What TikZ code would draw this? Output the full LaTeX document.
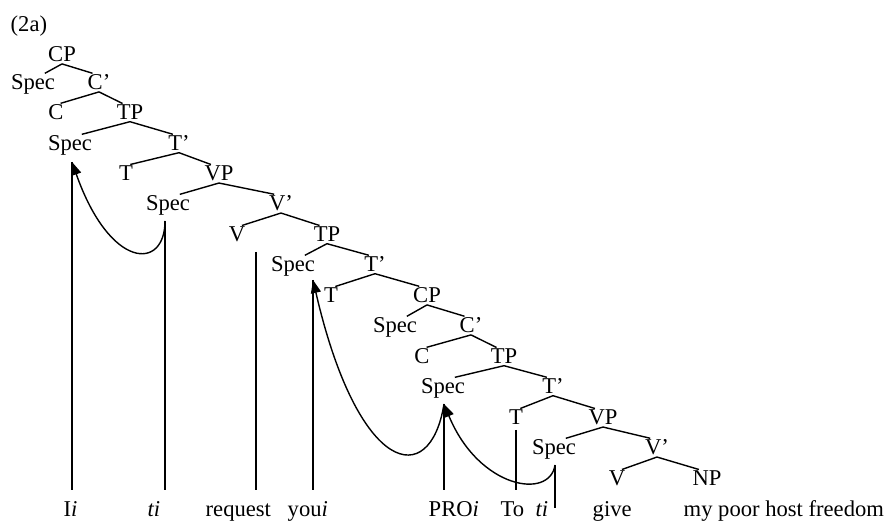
\documentclass[tikz,border=0pt]{standalone}
\usepackage{fontspec}
\setmainfont{Liberation Serif}
\usetikzlibrary{arrows.meta,calc}

\begin{document}
\begin{tikzpicture}[x=0.5pt, y=-0.5pt, line width=0.7pt,
        every node/.style={font=\fontsize{11.3}{13}\selectfont},
        lab/.style={anchor=base, inner sep=0.5pt},
        word/.style={anchor=base west, inner sep=0pt},
        move/.style={-{Triangle[length=6.5pt,width=5pt]}}]
    \useasboundingbox (0,0) rectangle (888,522);

    % Example number
    \node[word] (num) at (10,32) {(2a)};

    % Matrix clause
    \node[lab] (cp1) at (62,62) {CP};
    \node[lab] (spec1) at (33,90) {Spec};
    \node[lab] (cbar1) at (99,90) {C’};
    \node[lab] (c1) at (56,120) {C};
    \node[lab] (tp1) at (130,120) {TP};
    \node[lab] (spec2) at (70,151) {Spec};
    \node[lab] (tbar1) at (179,151) {T’};
    \node[lab] (t1) at (126,181) {T};
    \node[lab] (vp1) at (219,181) {VP};
    \node[lab] (spec3) at (168,211) {Spec};
    \node[lab] (vbar1) at (281,211) {V’};
    \node[lab] (v1) at (237,242) {V};

    % Embedded clause
    \node[lab] (tp2) at (327,242) {TP};
    \node[lab] (spec4) at (293,272) {Spec};
    \node[lab] (tbar2) at (375,272) {T’};
    \node[lab] (t2) at (331,303) {T};
    \node[lab] (cp2) at (427,303) {CP};
    \node[lab] (spec5) at (395,333) {Spec};
    \node[lab] (cbar2) at (471,333) {C’};
    \node[lab] (c2) at (422,364) {C};
    \node[lab] (tp3) at (504,364) {TP};
    \node[lab] (spec6) at (443,394) {Spec};
    \node[lab] (tbar3) at (553,394) {T’};
    \node[lab] (t3) at (516,425) {T};
    \node[lab] (vp2) at (603,425) {VP};
    \node[lab] (spec7) at (554,455) {Spec};
    \node[lab] (vbar2) at (657,455) {V’};
    \node[lab] (v2) at (617,486) {V};
    \node[lab] (np1) at (707,486) {NP};

    % Branches
    \foreach \p/\l/\r in {cp1/spec1/cbar1, cbar1/c1/tp1, tp1/spec2/tbar1, tbar1/t1/vp1,
            vp1/spec3/vbar1, vbar1/v1/tp2, tp2/spec4/tbar2, tbar2/t2/cp2,
            cp2/spec5/cbar2, cbar2/c2/tp3, tp3/spec6/tbar3, tbar3/t3/vp2,
            vp2/spec7/vbar2, vbar2/v2/np1}{
        \draw (\p.south) -- ($(\l.north)!.5!(\l.north east)$);
        \draw (\p.south) -- ($(\r.north)!.5!(\r.north west)$);
    }

    % Terminal string
    \node[word] (wI) at (63,517) {I\textit{i}};
    \node[word] (wT1) at (147,517) {\textit{ti}};
    \node[word] (wReq) at (205,517) {request};
    \node[word] (wYou) at (287,517) {you\textit{i}};
    \node[word] (wPro) at (428,517) {PRO\textit{i}};
    \node[word] (wTo) at (500,517) {To};
    \node[word] (wT2) at (535,517) {\textit{ti}};
    \node[word] (wGive) at (592,517) {give};
    \node[word] (wRest) at (683,517) {my poor host freedom};

    % Line tops
    \coordinate (wtop) at (0,490);
    \coordinate (tipI) at (72,162);
    \coordinate (topT1) at (165,221);
    \coordinate (topReq) at (256,252);
    \coordinate (tipYou) at (313,280);
    \coordinate (tipPro) at (444,404);
    \coordinate (topTo) at (516,430);
    \coordinate (topT2) at (555,465);
    \coordinate (botT2) at (555,508);

    \draw (tipI) -- (tipI |- wtop);
    \draw (topT1) -- (topT1 |- wtop);
    \draw (topReq) -- (topReq |- wtop);
    \draw (tipYou) -- (tipYou |- wtop);
    \draw (tipPro) -- (tipPro |- wtop);
    \draw (topTo) -- (topTo |- wtop);
    \draw (topT2) -- (botT2);

    % Movement
    \draw[move] (topT1) .. controls +(0,50) and +(38,108) .. (tipI);
    \draw[move] (tipPro) .. controls +(-14,87) and +(45,195) .. (tipYou);
    \draw[move] (topT2) .. controls +(-5,35) and +(35,85) .. (tipPro);
\end{tikzpicture}
\end{document}
